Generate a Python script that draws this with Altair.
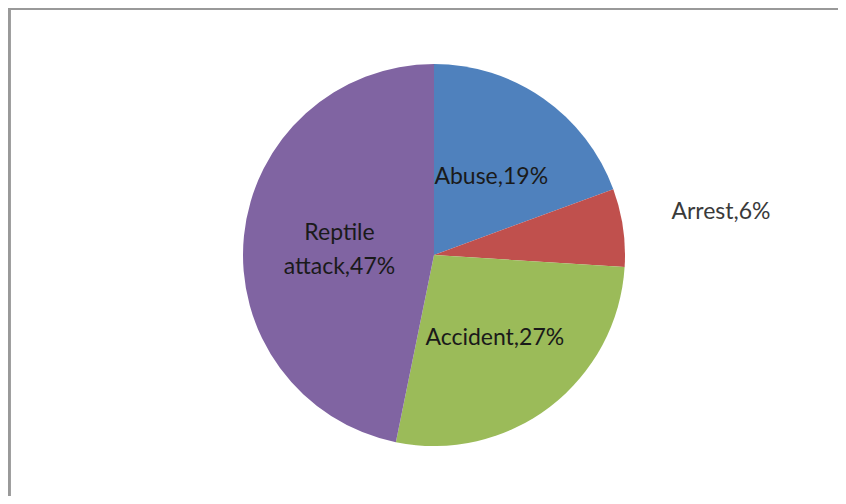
import altair as alt
import pandas as pd

categories = ["Abuse", "Arrest", "Accident", "Reptile attack"]
values = [19.4, 6.6, 27.2, 46.8]
labels = ["Abuse,19%", "Arrest,6%", "Accident,27%", "Reptile\nattack,47%"]
colors = ["#4F81BD", "#C0504D", "#9BBB59", "#8064A2"]
label_group = ["in", "out", "in", "multi"]

df = pd.DataFrame({
    "cat": categories,
    "value": values,
    "label": labels,
    "ord": list(range(len(categories))),
    "grp": label_group,
})

CX, CY, R = 426, 247, 191

base = alt.Chart(df).encode(
    theta=alt.Theta("value:Q", stack=True),
    order=alt.Order("ord:Q"),
    x=alt.value(CX),
    y=alt.value(CY),
)

pie = base.mark_arc(outerRadius=R).encode(
    color=alt.Color("cat:N", scale=alt.Scale(domain=categories, range=colors), legend=None)
)


def label_layer(group, radius, color, dy=0):
    return base.mark_text(radius=radius, font="Lato", fontSize=23, color=color,
                          lineBreak="\n", lineHeight=34, dy=dy).encode(
        text="label:N",
        opacity=alt.condition(f"datum.grp == '{group}'", alt.value(1), alt.value(0)),
    )


inner = label_layer("in", 100, "#1a1a1a", dy=4)
multi = label_layer("multi", 95, "#1a1a1a", dy=-12)
outer = label_layer("out", 290, "#3a3a3a", dy=-1)

top_line = alt.Chart(df).mark_rule(color="#999999", strokeWidth=2).encode(
    x=alt.value(0), x2=alt.value(840), y=alt.value(1)
)
left_line = alt.Chart(df).mark_rule(color="#999999", strokeWidth=3).encode(
    x=alt.value(1), y=alt.value(0), y2=alt.value(500)
)

chart = alt.layer(top_line, left_line, pie, inner, multi, outer).properties(
    width=830, height=488,
    autosize=alt.AutoSizeParams(type="none"),
    padding=0,
).configure_view(stroke=None).configure(background="white")

chart.save("out.html", embed_options={"renderer": "svg", "actions": False})
